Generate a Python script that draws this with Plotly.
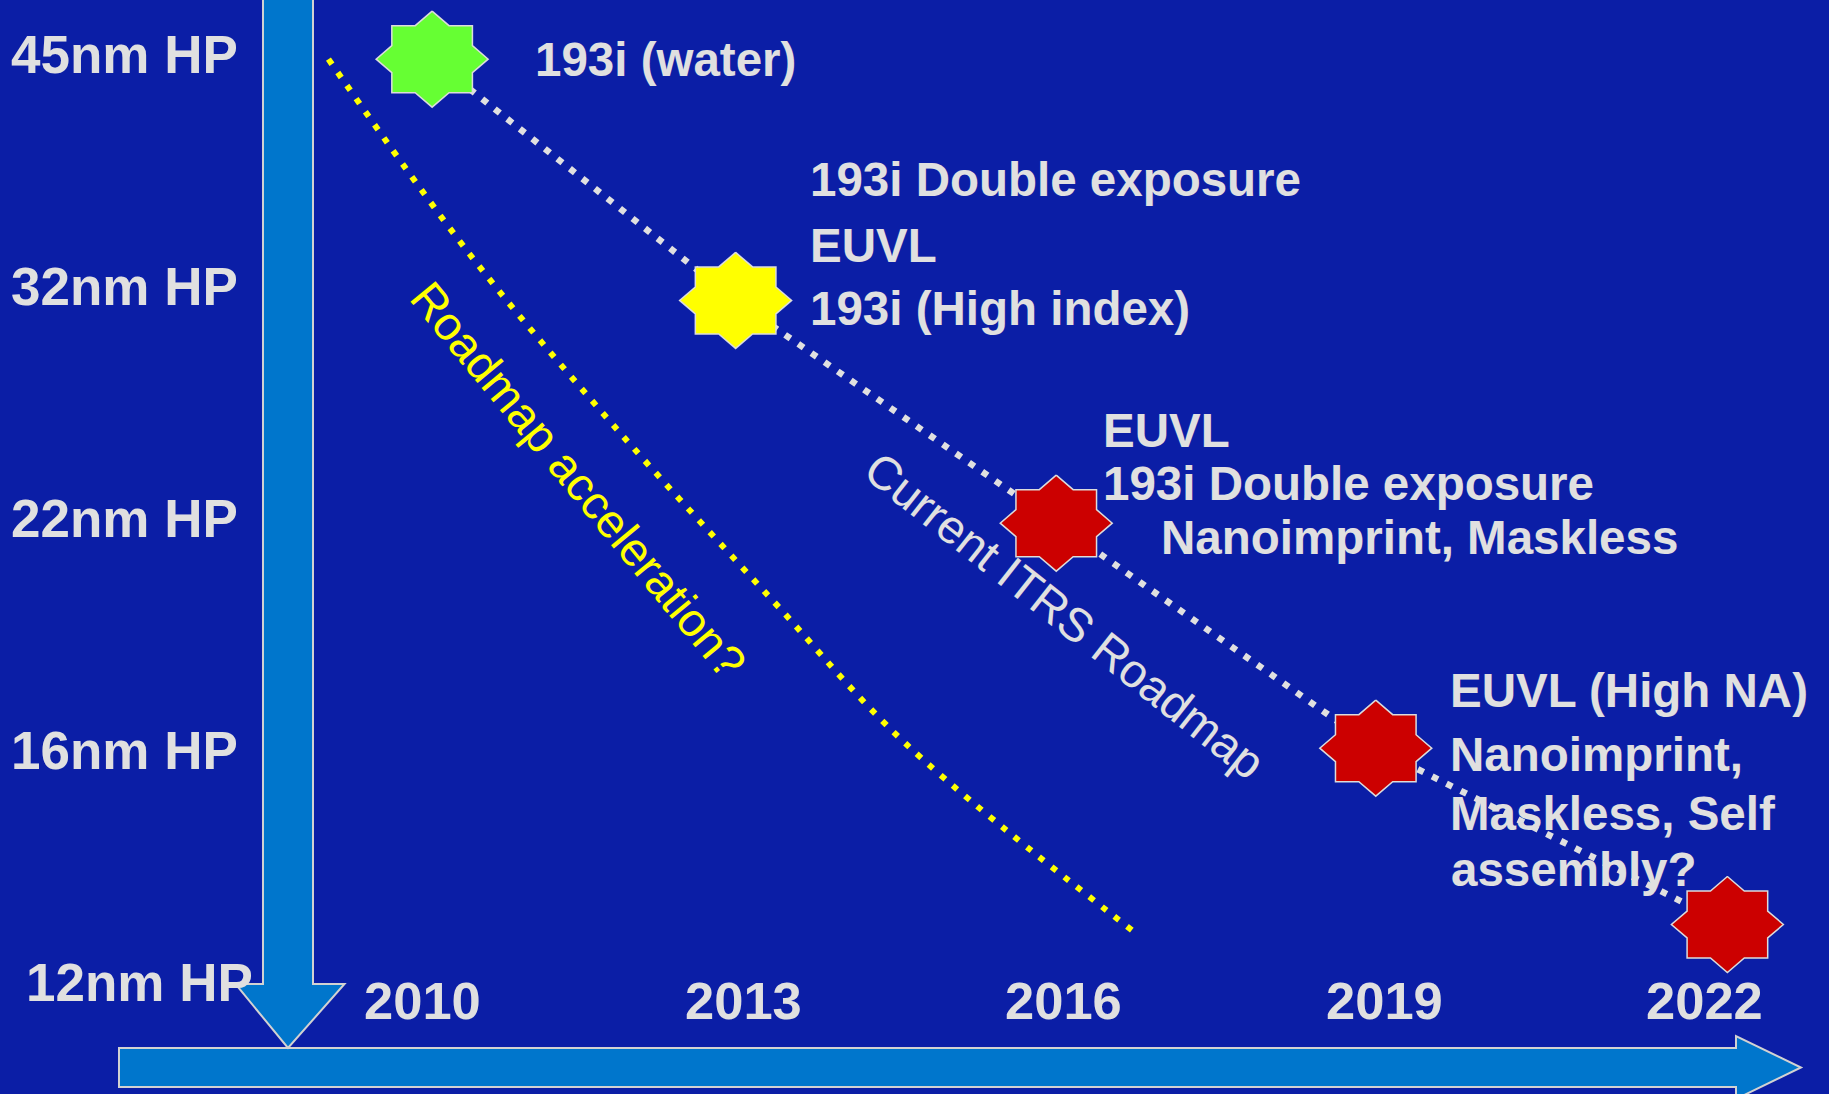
import plotly.graph_objects as go

# ---- data -------------------------------------------------------------
# half-pitch technology nodes (evenly spaced, top = largest)
node_labels = ["45nm HP", "32nm HP", "22nm HP", "16nm HP", "12nm HP"]
node_levels = [0, 1, 2, 3, 4]

# roadmap years on the time axis
years = [2010, 2013, 2016, 2019, 2022]

# lithography milestones of the current ITRS roadmap
milestone_year = [2010.09, 2012.93, 2015.93, 2018.92, 2022.21]
milestone_level = [0.02, 1.06, 2.02, 2.99, 3.75]
milestone_color = ["#66FF33", "#FFFF00", "#CC0000", "#CC0000", "#CC0000"]

# possible accelerated roadmap
accel_year = [2009.12, 2010.44, 2011.79, 2013.29, 2014.52, 2016.71]
accel_level = [0.02, 0.86, 1.60, 2.36, 2.97, 3.80]

# candidate lithography options per milestone, one entry per text line
milestone_text = [
    ["193i (water)"],
    ["193i Double exposure", "EUVL", "193i (High index)"],
    ["EUVL", "193i Double exposure", "Nanoimprint, Maskless"],
    ["EUVL (High NA)", "Nanoimprint,", "Maskless, Self", "assembly?"],
]

# ---- layout constants (pixels) -----------------------------------------
W, H = 1829, 1094
PX_PER_YEAR, YEAR0_PX = 106.87, 422.5
PX_PER_LEVEL, LEVEL0_PX = 232.0, 54.5

BG = "#0B1EA6"
ARROW_FILL = "#0076CC"
ARROW_EDGE = "#D2D2D2"
TEXT = "#E0E0E0"
YELLOW = "#FFFF00"
FONT = "Liberation Sans, Arial, Helvetica, sans-serif"

x_range = [2010 - YEAR0_PX / PX_PER_YEAR, 2010 + (W - YEAR0_PX) / PX_PER_YEAR]
y_range = [(H - LEVEL0_PX) / PX_PER_LEVEL, -LEVEL0_PX / PX_PER_LEVEL]


def px(x):
    return x / W


def py(y):
    return 1 - y / H


# 8-point star = square united with a diamond (pixel offsets from centre)
SQ_W, SQ_H, DI_W, DI_H = 40.3, 33.5, 56.0, 48.0


def star_outline(xc, yc):
    kx = DI_W * (1 - SQ_H / DI_H)
    ky = DI_H * (1 - SQ_W / DI_W)
    pts = [(0, -DI_H), (kx, -SQ_H), (SQ_W, -SQ_H), (SQ_W, -ky), (DI_W, 0),
           (SQ_W, ky), (SQ_W, SQ_H), (kx, SQ_H), (0, DI_H), (-kx, SQ_H),
           (-SQ_W, SQ_H), (-SQ_W, ky), (-DI_W, 0), (-SQ_W, -ky),
           (-SQ_W, -SQ_H), (-kx, -SQ_H), (0, -DI_H)]
    xs = [xc + dx / PX_PER_YEAR for dx, _ in pts]
    ys = [yc + dy / PX_PER_LEVEL for _, dy in pts]
    return xs, ys


fig = go.Figure()

# accelerated roadmap (yellow dotted curve)
fig.add_trace(go.Scatter(
    x=accel_year, y=accel_level, mode="lines",
    line=dict(color=YELLOW, width=6, dash="6px,10px", shape="spline"),
    hoverinfo="skip", showlegend=False))

# current ITRS roadmap (white dotted line through the milestones)
fig.add_trace(go.Scatter(
    x=milestone_year, y=milestone_level, mode="lines",
    line=dict(color=TEXT, width=6.5, dash="6.5px,9.5px"),
    hoverinfo="skip", showlegend=False))

# milestone stars
for xc, yc, col in zip(milestone_year, milestone_level, milestone_color):
    sx, sy = star_outline(xc, yc)
    fig.add_trace(go.Scatter(
        x=sx, y=sy, mode="lines", fill="toself", fillcolor=col,
        line=dict(color="#DCDCDC", width=1.5),
        hoverinfo="skip", showlegend=False))

# ---- block arrows (axes) -------------------------------------------------
def path(points):
    d = "M " + " L ".join(f"{px(a):.5f},{py(b):.5f}" for a, b in points)
    return d + " Z"


v_arrow = [(263, -5), (313, -5), (313, 984), (344.5, 984), (288, 1048),
           (235.5, 984), (263, 984)]
h_arrow = [(119, 1048), (1736, 1048), (1736, 1036), (1801, 1067.5),
           (1736, 1099), (1736, 1087), (119, 1087)]
shapes = []
for pts in (h_arrow, v_arrow):
    shapes.append(dict(type="path", path=path(pts), xref="paper", yref="paper",
                       fillcolor=ARROW_FILL, line=dict(color=ARROW_EDGE, width=2),
                       layer="below"))

annotations = []

# node labels on the left
node_x_px = [11, 11, 11, 11, 26]
for lab, lev, xp in zip(node_labels, node_levels, node_x_px):
    annotations.append(dict(
        text=lab, x=px(xp), xref="paper", y=lev, yref="y",
        xanchor="left", yanchor="middle", showarrow=False,
        borderpad=0, borderwidth=0,
        font=dict(family=FONT, size=53, color=TEXT, weight="bold")))

# year labels above the time arrow
for yr in years:
    annotations.append(dict(
        text=str(yr), x=yr, xref="x", y=py(1000), yref="paper",
        xanchor="center", yanchor="middle", showarrow=False,
        borderpad=0, borderwidth=0,
        font=dict(family=FONT, size=52.5, color=TEXT, weight="bold")))

# milestone option texts: per line (left x, cap-centre y) in pixels
text_pos = [
    [(534.5, 59.5)],
    [(810, 180), (810, 245), (810, 308)],
    [(1103, 430), (1103, 483.5), (1161, 537)],
    [(1450, 690), (1450, 754), (1450, 813), (1451, 869)],
]
for lines, poss in zip(milestone_text, text_pos):
    for t, (xp, yp) in zip(lines, poss):
        annotations.append(dict(
            text=t, x=px(xp), xref="paper", y=py(yp), yref="paper",
            xanchor="left", yanchor="middle", showarrow=False,
            borderpad=0, borderwidth=0,
            font=dict(family=FONT, size=47.5, color=TEXT, weight="bold")))

# rotated captions of the two roadmap lines
annotations.append(dict(
    text="Roadmap acceleration?", x=px(578), xref="paper", y=py(480), yref="paper",
    xanchor="center", yanchor="middle", textangle=50.5, showarrow=False,
    borderpad=0, borderwidth=0,
    font=dict(family=FONT, size=47, color=YELLOW)))
annotations.append(dict(
    text="Current ITRS Roadmap", x=px(1065), xref="paper", y=py(615.5), yref="paper",
    xanchor="center", yanchor="middle", textangle=38.3, showarrow=False,
    borderpad=0, borderwidth=0,
    font=dict(family=FONT, size=47, color=TEXT)))

fig.update_layout(
    width=W, height=H,
    margin=dict(l=0, r=0, t=0, b=0),
    paper_bgcolor=BG, plot_bgcolor=BG,
    xaxis=dict(range=x_range, visible=False, fixedrange=True),
    yaxis=dict(range=y_range, visible=False, fixedrange=True),
    shapes=shapes, annotations=annotations,
    showlegend=False, hovermode=False,
)

fig.write_html("out.html", config={"displayModeBar": False})
